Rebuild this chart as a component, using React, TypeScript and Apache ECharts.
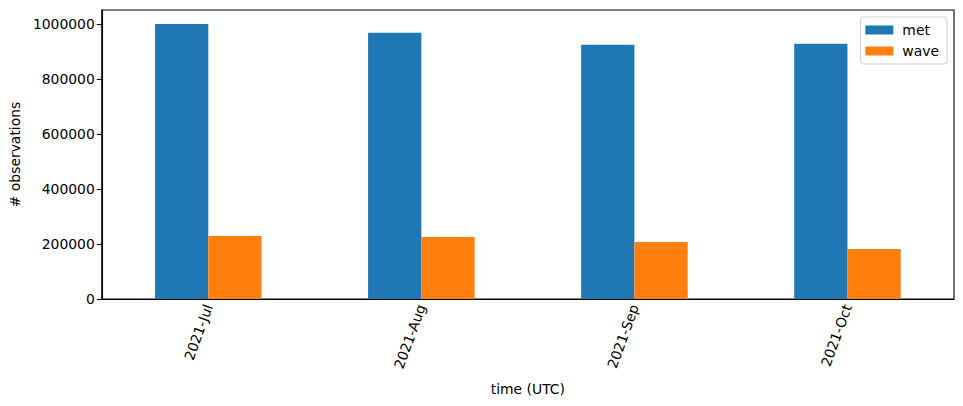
import { useEffect, useRef } from "react";
import * as echarts from "echarts";

// ── Data ──────────────────────────────────────────────────────────────────────
const MONTHS = ["2021-Jul", "2021-Aug", "2021-Sep", "2021-Oct"];
const MET = [999000, 967000, 924000, 927000];
const WAVE = [229000, 225000, 207000, 182000];
const Y_TICKS = [0, 200000, 400000, 600000, 800000, 1000000];

const FONT = "DejaVu Sans";
const FS = 13.9;

export default function App() {
  const ref = useRef<HTMLDivElement>(null);

  useEffect(() => {
    const el = ref.current;
    if (!el) return;
    const chart = echarts.init(el, null, { renderer: "svg" });
    chart.setOption({
      animation: false,
      backgroundColor: "#fff",
      textStyle: { fontFamily: FONT },
      grid: {
        left: 101, right: 9, top: 10, bottom: 107,
        show: true, borderColor: "#000", borderWidth: 1.1, backgroundColor: "transparent",
      },
      legend: {
        orient: "vertical",
        right: 16,
        top: 17,
        align: "left",
        itemWidth: 28,
        itemHeight: 9,
        itemGap: 7,
        padding: [6, 8, 6, 5],
        borderColor: "#cccccc",
        borderWidth: 1,
        borderRadius: 3,
        icon: "rect",
        textStyle: { fontFamily: FONT, fontSize: FS, color: "#000", padding: [0, 0, 0, 4] },
        data: ["met", "wave"],
      },
      xAxis: {
        type: "category",
        data: MONTHS,
        name: "time (UTC)",
        nameLocation: "middle",
        nameGap: 83,
        nameTextStyle: { fontFamily: FONT, fontSize: FS, color: "#000" },
        axisLine: { lineStyle: { color: "#000", width: 1.1 } },
        axisTick: { alignWithLabel: true, length: 5, lineStyle: { color: "#000", width: 1.1 } },
        axisLabel: { rotate: 70, margin: 6, fontFamily: FONT, fontSize: FS, color: "#000" },
      },
      yAxis: {
        type: "value",
        min: 0,
        max: 1050000,
        name: "# observations",
        nameLocation: "middle",
        nameGap: 78,
        nameTextStyle: { fontFamily: FONT, fontSize: FS, color: "#000" },
        axisLine: { show: true, lineStyle: { color: "#000", width: 1.1 } },
        axisTick: { show: true, length: 5, customValues: Y_TICKS, lineStyle: { color: "#000", width: 1.1 } },
        axisLabel: {
          customValues: Y_TICKS, margin: 7, fontFamily: FONT, fontSize: FS, color: "#000",
          formatter: (v: number) => String(v),
        },
        splitLine: { show: false },
      },
      series: [
        {
          name: "met",
          type: "bar",
          data: MET,
          barWidth: "25%",
          barGap: "0%",
          itemStyle: { color: "#1f77b4" },
        },
        {
          name: "wave",
          type: "bar",
          data: WAVE,
          barWidth: "25%",
          barGap: "0%",
          itemStyle: { color: "#ff7f0e" },
        },
      ],
    });
    return () => chart.dispose();
  }, []);

  return (
    <div
      ref={ref}
      style={{ position: "fixed", left: 0, top: 0, width: 963, height: 406 }}
    />
  );
}
